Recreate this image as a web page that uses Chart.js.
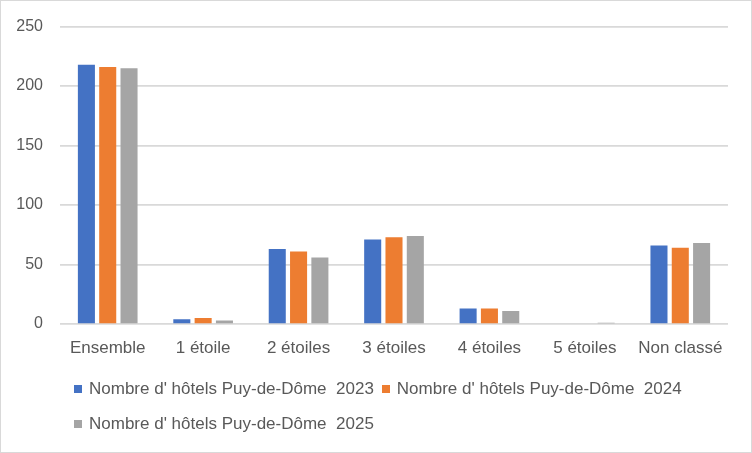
<!DOCTYPE html>
<html lang="fr">
<head>
<meta charset="utf-8">
<script src="https://cdn.jsdelivr.net/npm/chart.js@4.4.1/dist/chart.umd.min.js"></script>
<style>
  html, body { margin: 0; padding: 0; background: #fff; }
  #cadre { position: relative; width: 752px; height: 453px; }
  #graphique { position: absolute; left: 0; top: 0; }
  #bordure { position: absolute; left: 0; top: 0; width: 752px; height: 453px;
    box-sizing: border-box; border: 1px solid #d9d9d9; pointer-events: none; }
  #legende { position: absolute; left: 74px; top: 377px; width: 670px;
    font-family: "Liberation Sans", Arial, sans-serif; font-size: 17px; color: #595959; }
  .ligne { display: flex; align-items: center; height: 24px; margin-bottom: 11px; white-space: pre; }
  .item { display: flex; align-items: center; margin-right: 8px; }
  .boite { width: 8px; height: 8px; margin-right: 7px; }
</style>
</head>
<body>
<div id="cadre">
  <canvas id="graphique" width="752" height="453"></canvas>
  <div id="legende"></div>
  <div id="bordure"></div>
</div>
<script>
const categories = ["Ensemble", "1 étoile", "2 étoiles", "3 étoiles", "4 étoiles", "5 étoiles", "Non classé"];
const hotels2023 = [218, 4, 63, 71, 13, 0, 66];
const hotels2024 = [216, 5, 61, 73, 13, 0, 64];
const hotels2025 = [215, 3, 56, 74, 11, 1, 68];
const libelles = [
  "Nombre d' hôtels Puy-de-Dôme  2023",
  "Nombre d' hôtels Puy-de-Dôme  2024",
  "Nombre d' hôtels Puy-de-Dôme  2025"
];
const couleurs = ["#4472C4", "#ED7D31", "#A5A5A5"];
const ticksY = [0, 50, 100, 150, 200, 250];

const policeY = { family: "'Liberation Sans', Arial, sans-serif", size: 16 };
const policeX = { family: "'Liberation Sans', Arial, sans-serif", size: 17 };
const gris = "#595959";

let grafico;

function criarGrafico() {
  const ctx = document.getElementById("graphique").getContext("2d");
  const series = [hotels2023, hotels2024, hotels2025];

  grafico = new Chart(ctx, {
    type: "bar",
    data: {
      labels: categories,
      datasets: series.map((valores, i) => ({
        label: libelles[i],
        data: valores,
        backgroundColor: couleurs[i],
        categoryPercentage: 0.67,
        barPercentage: 0.8
      }))
    },
    options: {
      responsive: false,
      animation: false,
      layout: { padding: { left: 15, right: 24, top: 24, bottom: 95 } },
      plugins: {
        legend: { display: false },
        tooltip: { enabled: false }
      },
      scales: {
        x: {
          grid: { display: false, drawTicks: false },
          border: { display: false },
          ticks: { color: gris, font: policeX, padding: 14, maxRotation: 0 },
          afterFit: axis => { axis.height = 34; axis.paddingLeft = 0; axis.paddingRight = 0; }
        },
        y: {
          min: ticksY[0],
          max: ticksY[ticksY.length - 1],
          afterBuildTicks: axis => { axis.ticks = ticksY.map(v => ({ value: v })); },
          grid: { color: "#d9d9d9", lineWidth: 1.7, drawTicks: false },
          border: { display: false },
          ticks: { color: gris, font: policeY, padding: 17 },
          afterFit: axis => { axis.width = 45; }
        }
      }
    }
  });

  criarLegenda();
}

function criarLegenda() {
  const legende = document.getElementById("legende");
  const linhas = [[0, 1], [2]];
  linhas.forEach(indices => {
    const linha = document.createElement("div");
    linha.className = "ligne";
    indices.forEach(i => {
      const ds = grafico.data.datasets[i];
      const item = document.createElement("div");
      item.className = "item";
      const boite = document.createElement("span");
      boite.className = "boite";
      boite.style.background = ds.backgroundColor;
      const texte = document.createElement("span");
      texte.textContent = ds.label;
      item.appendChild(boite);
      item.appendChild(texte);
      linha.appendChild(item);
    });
    legende.appendChild(linha);
  });
}

criarGrafico();
</script>
</body>
</html>
